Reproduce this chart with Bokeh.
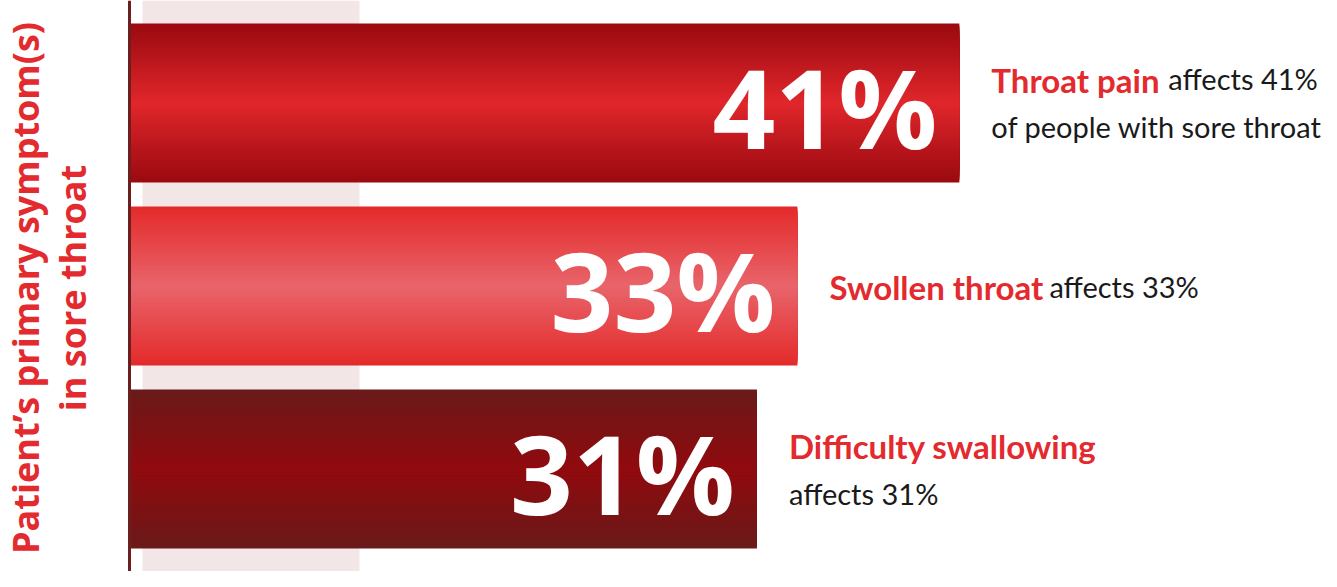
import numpy as np
from bokeh.plotting import figure
from bokeh.models import Range1d, Span, BoxAnnotation, ColumnDataSource
from bokeh.core.properties import value
from bokeh.embed import file_html
from bokeh.resources import INLINE

# ---- data ----
symptoms = ["Throat pain", "Swollen throat", "Difficulty swallowing"]
percent = [41, 33, 31]
big_labels = ["41%", "33%", "31%"]
line1_rest = ["affects 41%", "affects 33%", ""]
line2_text = ["of people with sore throat", "", "affects 31%"]
title_lines = ["Patient\u2019s primary symptom(s)", "in sore throat"]

# ---- style ----
edge_colors = ["#9a0a10", "#e42b2b", "#6a1a1a"]
center_colors = ["#e0262b", "#e8646a", "#900a0e"]
name_gap = [177, 220, 0]      # px width of the bold name incl. space
two_lines = [True, False, True]

W, H = 1321, 571
PX = 20.24                     # pixels per percent
X0 = 129                       # pixel position of 0
x_range = Range1d(-X0 / PX, (W - X0) / PX)
y_range = Range1d(0.44, 3.56)

p = figure(width=W, height=H, x_range=x_range, y_range=y_range,
           x_axis_location=None, y_axis_location=None,
           toolbar_location=None, output_backend="svg", min_border=0)
p.grid.visible = False
p.outline_line_color = None
p.background_fill_color = "white"

# pale decorative band
p.add_layout(BoxAnnotation(left=13 / PX, right=230 / PX, fill_color="#f3e6e6",
                           fill_alpha=1, line_color=None, level="underlay"))


def hex2rgb(h):
    h = h.lstrip("#")
    return np.array([int(h[i:i + 2], 16) for i in (0, 2, 4)], float)


def rgb2hex(c):
    return "#%02x%02x%02x" % tuple(int(round(v)) for v in c)


bar_h = 0.869
n = 40
ys_pos = [3, 2, 1]
for i, v in enumerate(percent):
    yc = ys_pos[i]
    e = hex2rgb(edge_colors[i]); c = hex2rgb(center_colors[i])
    hs, cols = [], []
    for k in range(n):
        w = k / (n - 1)
        hs.append(bar_h * (1 - k / n))
        cols.append(rgb2hex(e + (c - e) * w))
    src = ColumnDataSource(dict(y=[yc] * n, right=[v] * n, h=hs, color=cols))
    p.hbar(y="y", left=0, right="right", height="h", color="color",
           line_color=None, source=src)

# axis line
p.add_layout(Span(location=0, dimension="height", line_color="#6b1f1f",
                  line_width=3))

# big numbers
p.text(x=percent, y=ys_pos, text=big_labels, text_color="white",
       text_font=value("Open Sans"), text_font_style="bold",
       text_font_size="110px", text_align="right", text_baseline="alphabetic",
       x_offset=-22, y_offset=3)

# labels
for i, v in enumerate(percent):
    yc = ys_pos[i]
    off1 = -23 if two_lines[i] else 1
    p.text(x=[v], y=[yc], text=[symptoms[i]], text_color="#e32a2e",
           text_font=value("Lato"), text_font_style="bold",
           text_font_size="33px", text_align="left", text_baseline="alphabetic",
           x_offset=32, y_offset=off1)
    if line1_rest[i]:
        p.text(x=[v], y=[yc], text=[line1_rest[i]], text_color="#1a1a1a",
               text_font=value("Lato"), text_font_size="29px",
               text_align="left", text_baseline="alphabetic",
               x_offset=32 + name_gap[i], y_offset=off1 - 1)
    if line2_text[i]:
        p.text(x=[v], y=[yc], text=[line2_text[i]], text_color="#1a1a1a",
               text_font=value("Lato"), text_font_size="29px",
               text_align="left", text_baseline="alphabetic",
               x_offset=32, y_offset=24)

# rotated title
p.text(x=[0, 0], y=[2, 2], text=title_lines, angle=np.pi / 2,
       text_color="#e32a2e", text_font=value("Open Sans"),
       text_font_style="bold", text_font_size="36px", text_align="center",
       text_baseline="alphabetic", x_offset=[-104, -57], y_offset=2)

open("out.html", "w").write(file_html(p, INLINE))
